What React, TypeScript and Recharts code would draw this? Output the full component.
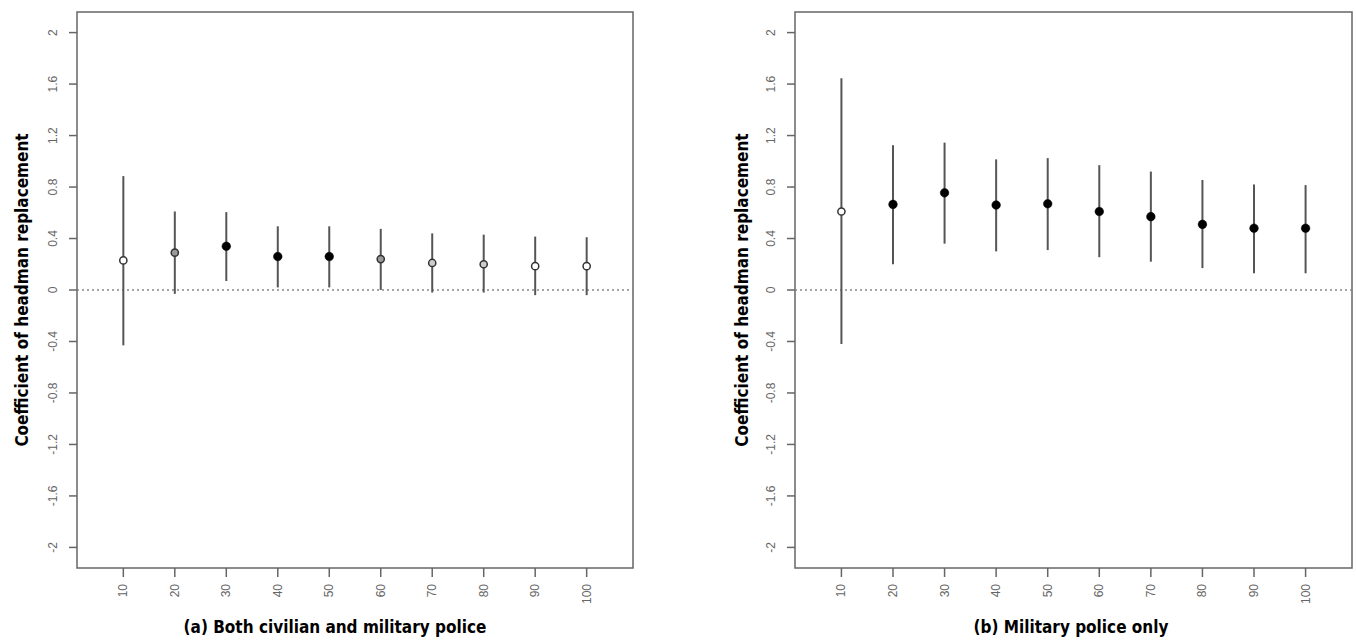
import React from 'react';
import {
  ComposedChart,
  Scatter,
  ErrorBar,
  XAxis,
  YAxis,
  ReferenceLine,
  ReferenceArea
} from 'recharts';

// bandwidths (x axis)
const bins = [10, 20, 30, 40, 50, 60, 70, 80, 90, 100];
const xTicks = [10, 20, 30, 40, 50, 60, 70, 80, 90, 100];
const yTicks = [-2, -1.6, -1.2, -0.8, -0.4, 0, 0.4, 0.8, 1.2, 1.6, 2];

// (a) both civilian and military police
const bothEst = [0.23, 0.29, 0.34, 0.26, 0.26, 0.24, 0.21, 0.2, 0.185, 0.185];
const bothLo = [-0.43, -0.03, 0.07, 0.02, 0.02, 0.0, -0.02, -0.02, -0.04, -0.04];
const bothHi = [0.885, 0.61, 0.605, 0.495, 0.495, 0.475, 0.44, 0.43, 0.415, 0.41];
const bothSig = ['open', 'gray', 'filled', 'filled', 'filled', 'gray', 'light', 'light', 'open', 'open'];

// (b) military police only
const milEst = [0.61, 0.665, 0.755, 0.66, 0.67, 0.61, 0.57, 0.51, 0.48, 0.48];
const milLo = [-0.42, 0.2, 0.36, 0.3, 0.31, 0.255, 0.22, 0.17, 0.13, 0.13];
const milHi = [1.645, 1.125, 1.145, 1.015, 1.025, 0.97, 0.92, 0.855, 0.82, 0.815];
const milSig = ['open', 'filled', 'filled', 'filled', 'filled', 'filled', 'filled', 'filled', 'filled', 'filled'];

const yTitle = 'Coefficient of headman replacement';
const titleA = '(a) Both civilian and military police';
const titleB = '(b) Military police only';

const X_DOMAIN: [number, number] = [1, 109];
const Y_DOMAIN: [number, number] = [-2.16, 2.16];
const boxColor = '#666';
const tickFont = "'Liberation Sans', Arial, sans-serif";
const titleFont = "'Liberation Sans Narrow', 'DejaVu Sans Condensed', 'Roboto', sans-serif";

const fills: Record<string, string> = { gray: '#999', light: '#ccc', open: '#fff' };

const build = (est: number[], lo: number[], hi: number[], sig: string[]) =>
  bins.map((b, i) => ({
    x: b,
    y: est[i],
    err: [est[i] - lo[i], hi[i] - est[i]],
    sig: sig[i]
  }));

const YTick = ({ x, y, payload }: any) => (
  <text
    x={x - 14}
    y={y}
    transform={`rotate(-90, ${x - 14}, ${y})`}
    textAnchor="middle"
    dominantBaseline="central"
    fontSize={12}
    fontFamily={tickFont}
    fill="#666"
  >
    {payload.value}
  </text>
);

const XTick = ({ x, y, payload }: any) => (
  <text
    x={x}
    y={y + 5}
    transform={`rotate(-90, ${x}, ${y + 5})`}
    textAnchor="end"
    dominantBaseline="central"
    fontSize={12}
    fontFamily={tickFont}
    fill="#666"
  >
    {payload.value}
  </text>
);

const PointShape = (props: any) => {
  const { cx, cy, payload } = props;
  if (cx == null || cy == null) return null;
  if (payload.sig === 'filled') {
    return <circle cx={cx} cy={cy} r={4.3} fill="#000" stroke="#000" strokeWidth={0.5} />;
  }
  return <circle cx={cx} cy={cy} r={3.6} fill={fills[payload.sig]} stroke="#333" strokeWidth={1.5} />;
};

interface PanelProps {
  data: any[];
  width: number;
  rightMargin: number;
}

const Panel = ({ data, width, rightMargin }: PanelProps) => (
  <ComposedChart
    width={width}
    height={643}
    data={data}
    margin={{ top: 12, right: rightMargin, bottom: 35, left: 0 }}
  >
    <XAxis
      type="number"
      dataKey="x"
      domain={X_DOMAIN}
      ticks={xTicks}
      allowDataOverflow
      axisLine={false}
      tickSize={9}
      tickLine={{ stroke: boxColor, strokeWidth: 1.5 }}
      tick={<XTick />}
      height={40}
      interval={0}
    />
    <YAxis
      type="number"
      dataKey="y"
      domain={Y_DOMAIN}
      ticks={yTicks}
      allowDataOverflow
      axisLine={false}
      tickSize={8}
      tickLine={{ stroke: boxColor, strokeWidth: 1.5 }}
      tick={<YTick />}
      width={77}
      interval={0}
    />
    <ReferenceArea
      x1={X_DOMAIN[0]}
      x2={X_DOMAIN[1]}
      y1={Y_DOMAIN[0]}
      y2={Y_DOMAIN[1]}
      fill="none"
      stroke={boxColor}
      strokeWidth={1.5}
      fillOpacity={0}
    />
    <ReferenceLine y={0} stroke="#888" strokeWidth={1.5} strokeDasharray="2 3" />
    <Scatter dataKey="y" shape={PointShape} isAnimationActive={false}>
      <ErrorBar dataKey="err" direction="y" width={0} stroke="#555" strokeWidth={2} isAnimationActive={false} />
    </Scatter>
  </ComposedChart>
);

export default function App() {
  const dataA = build(bothEst, bothLo, bothHi, bothSig);
  const dataB = build(milEst, milLo, milHi, milSig);
  return (
    <div style={{ position: 'absolute', left: 0, top: 0, width: 1356, height: 643, background: '#fff' }}>
      <div style={{ position: 'absolute', left: 0, top: 0 }}>
        <Panel data={dataA} width={678} rightMargin={45} />
      </div>
      <div style={{ position: 'absolute', left: 718, top: 0 }}>
        <Panel data={dataB} width={638} rightMargin={4} />
      </div>
      <svg
        width={1356}
        height={643}
        style={{ position: 'absolute', left: 0, top: 0, pointerEvents: 'none' }}
      >
        <g fontFamily={titleFont} fontWeight="bold" fontSize={17} fill="#000">
          <text x={28} y={290} transform="rotate(-90, 28, 290)" textAnchor="middle">{yTitle}</text>
          <text x={748} y={290} transform="rotate(-90, 748, 290)" textAnchor="middle">{yTitle}</text>
          <text x={335} y={633} textAnchor="middle">{titleA}</text>
          <text x={1071} y={633} textAnchor="middle">{titleB}</text>
        </g>
      </svg>
    </div>
  );
}
